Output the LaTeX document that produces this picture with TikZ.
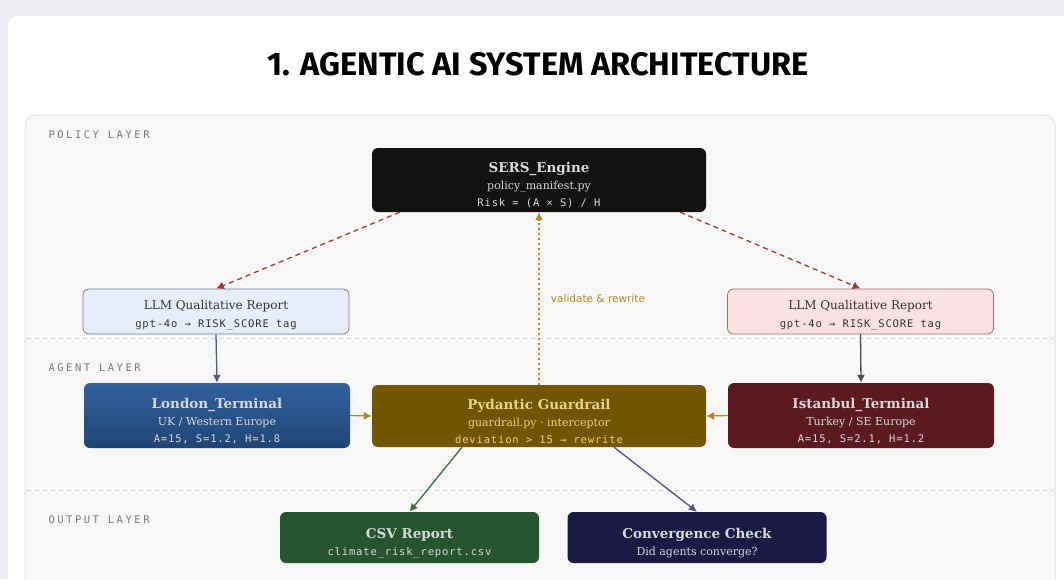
\documentclass[tikz,border=0pt]{standalone}
\usepackage{fontspec}
\setmainfont{DejaVu Serif}
\setsansfont{DejaVu Sans}
\setmonofont{DejaVu Sans Mono}
\newfontfamily\titlefont{Fira Sans}
\newfontfamily\layerfont[LetterSpace=24]{DejaVu Sans Mono}
\newfontfamily\codefont[LetterSpace=8]{DejaVu Sans Mono}
\usepackage{tikz}
\usetikzlibrary{calc,arrows.meta}

\definecolor{pagebg}{HTML}{EEEEF3}
\definecolor{panelbg}{HTML}{F7F7F7}
\definecolor{panelline}{HTML}{E2E2E2}
\definecolor{engfill}{HTML}{121212}
\definecolor{llmbluefill}{HTML}{E6EEFA}
\definecolor{llmblueline}{HTML}{6F7F99}
\definecolor{llmpinkfill}{HTML}{F9E1E4}
\definecolor{llmpinkline}{HTML}{9A6F74}
\definecolor{lontop}{HTML}{33629F}
\definecolor{lonbot}{HTML}{1F4473}
\definecolor{guardfill}{HTML}{715500}
\definecolor{guardtext}{HTML}{E8D28C}
\definecolor{istfill}{HTML}{5B1A22}
\definecolor{csvfill}{HTML}{24552E}
\definecolor{convfill}{HTML}{1C1A45}
\definecolor{policyarrow}{HTML}{9C3D3D}
\definecolor{goldarrow}{HTML}{A88A22}
\definecolor{greenarrow}{HTML}{3C6B45}
\definecolor{violetarrow}{HTML}{5A4E80}
\definecolor{slatearrow}{HTML}{4A5F80}
\definecolor{layergray}{HTML}{7A7A7A}

\newcommand{\boxhead}[1]{{\bfseries\fontsize{13.5}{17}\selectfont\rule{0pt}{21pt}#1}}
\newcommand{\llmhead}[1]{\rule{0pt}{16pt}#1}
\newcommand{\boxcode}[1]{{\codefont\fontsize{10.5}{16}\selectfont #1}}

\tikzset{
  box/.style={rounded corners=6pt, align=center, inner sep=2pt,
    font=\fontsize{11}{17}\selectfont},
  llmbox/.style={box, minimum width=266pt, minimum height=45pt, line width=0.8pt,
    text=black!80, font=\fontsize{12}{18}\selectfont},
  agentbox/.style={box, minimum width=266pt, minimum height=65pt, text=white!85!black},
  outbox/.style={box, minimum width=259pt, minimum height=51pt, text=white!85!black},
  layerlabel/.style={anchor=west, text=layergray, font=\layerfont\fontsize{10.5}{12}\selectfont},
  flow/.style={line width=1.3pt, -{Latex[length=8pt,width=8pt]}},
  sepline/.style={panelline!80!gray, line width=0.9pt, dash pattern=on 4pt off 4pt}
}

\begin{document}
\begin{tikzpicture}[x=1pt,y=-1pt]
    \useasboundingbox (0,0) rectangle (1064,579);
    \fill[pagebg] (0,0) rectangle (1064,579);
    \fill[white, rounded corners=10pt] (8,16) rectangle (1090,620);
    \filldraw[fill=panelbg, draw=panelline, line width=1pt, rounded corners=10pt]
        (25,115) rectangle (1055,620);

    \node (title) at (538,64) {\titlefont\bfseries\fontsize{32.5}{36}\selectfont 1. AGENTIC AI SYSTEM ARCHITECTURE};

    % layers
    \draw[sepline] (27,338) -- (1053,338);
    \draw[sepline] (27,490) -- (1053,490);
    \node[layerlabel] (pol) at (45,135) {POLICY LAYER};
    \node[layerlabel] (agt) at (45,368) {AGENT LAYER};
    \node[layerlabel] (out) at (45,520) {OUTPUT LAYER};

    % boxes
    \node[box, fill=engfill, text=white!85!black, minimum width=334pt, minimum height=64pt] (sers) at (539,180)
        {\boxhead{SERS\_Engine}\\ policy\_manifest.py\\ \boxcode{Risk = (A × S) / H}};
    \node[llmbox, fill=llmbluefill, draw=llmblueline] (llm1) at (216,311.5)
        {\llmhead{LLM Qualitative Report}\\ \boxcode{gpt-4o → RISK\_SCORE tag}};
    \node[llmbox, fill=llmpinkfill, draw=llmpinkline] (llm2) at (860.5,311.5)
        {\llmhead{LLM Qualitative Report}\\ \boxcode{gpt-4o → RISK\_SCORE tag}};

    \node[agentbox, top color=lontop, bottom color=lonbot] (lon) at (217,415.5)
        {\boxhead{London\_Terminal}\\ UK / Western Europe\\ \boxcode{A=15, S=1.2, H=1.8}};
    \node[box, fill=guardfill, text=guardtext, minimum width=334pt, minimum height=62pt] (guard) at (539,416)
        {\boxhead{Pydantic Guardrail}\\ guardrail.py · interceptor\\ \boxcode{deviation > 15 → rewrite}};
    \node[agentbox, fill=istfill] (ist) at (861,415.5)
        {\boxhead{Istanbul\_Terminal}\\ Turkey / SE Europe\\ \boxcode{A=15, S=2.1, H=1.2}};

    \node[outbox, fill=csvfill] (csv) at (409.5,537.5)
        {\boxhead{CSV Report}\\ \boxcode{climate\_risk\_report.csv}};
    \node[outbox, fill=convfill] (conv) at (697,537.5)
        {\boxhead{Convergence Check}\\ Did agents converge?};

    % connectors
    \draw[flow, policyarrow, dash pattern=on 5pt off 4pt] ($(sers.south west)+(28,0)$) -- (llm1.north);
    \draw[flow, policyarrow, dash pattern=on 5pt off 4pt] ($(sers.south east)+(-26,0)$) -- (llm2.north);
    \draw[flow, slatearrow] (llm1.south) -- (lon.north);
    \draw[flow, black!70] (llm2.south) -- (ist.north);
    \draw[flow, goldarrow] (lon.east) -- (guard.west);
    \draw[flow, goldarrow] (ist.west) -- (guard.east);
    \draw[flow, goldarrow, dash pattern=on 2pt off 3pt] (guard.north) -- (sers.south)
        node[midway, right=8pt, text=goldarrow, font=\sffamily\fontsize{10.5}{12}\selectfont] (vlab) {validate \& rewrite};
    \draw[flow, greenarrow] ($(guard.south)+(-77,0)$) -- (csv.north);
    \draw[flow, violetarrow] ($(guard.south)+(75,0)$) -- (conv.north);
\end{tikzpicture}
\end{document}
